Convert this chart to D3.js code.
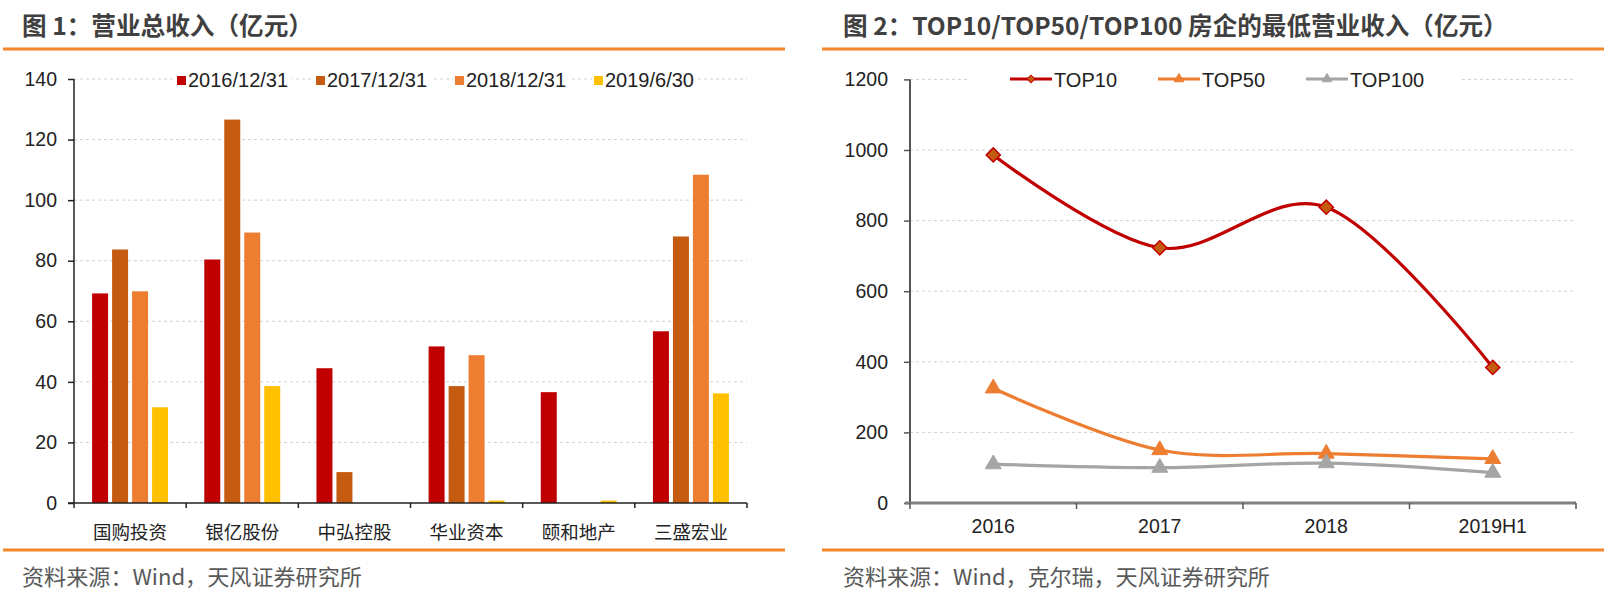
<!DOCTYPE html>
<html><head><meta charset="utf-8">
<script src="https://cdn.jsdelivr.net/npm/d3@7"></script>
<style>body{margin:0;background:#fff;} svg{display:block;}</style>
</head><body><svg id="c" width="1615" height="591"></svg>
<script>
// ---------- data ----------
const companies = ["国购投资","银亿股份","中弘控股","华业资本","颐和地产","三盛宏业"];
const barSeries = ["2016/12/31","2017/12/31","2018/12/31","2019/6/30"];
const rev2016 = [69.2, 80.4, 44.5, 51.7, 36.6, 56.7];
const rev2017 = [83.7, 126.6, 10.2, 38.6, 0, 88.0];
const rev2018 = [69.9, 89.3, 0, 48.8, 0, 108.4];
const rev2019H1 = [31.6, 38.6, 0, 0.8, 0.8, 36.2];
const barTicks = [0, 20, 40, 60, 80, 100, 120, 140];

const years = ["2016","2017","2018","2019H1"];
const lineSeries = ["TOP10","TOP50","TOP100"];
const top10 = [986, 723, 838, 384];
const top50 = [325, 150, 140, 125];
const top100 = [110, 100, 113, 86];
const lineTicks = [0, 200, 400, 600, 800, 1000, 1200];

const title1 = "图 1：营业总收入（亿元）";
const title2 = "图 2：TOP10/TOP50/TOP100 房企的最低营业收入（亿元）";
const source1 = "资料来源：Wind，天风证券研究所";
const source2 = "资料来源：Wind，克尔瑞，天风证券研究所";

// ---------- styles ----------
const barColors = ["#C00000", "#C55A11", "#ED7D31", "#FFC000"];
const lineColors = ["#C00000", "#ED7D31", "#A5A5A5"];
const ORANGE = "#F4862B";
const CJK = "'Noto Sans CJK SC', 'Noto Sans', sans-serif";
const LAT = "'Liberation Sans', Arial, sans-serif";

const svg = d3.select("#c");

function fit(t, w) {
  const fs = parseFloat(t.attr("font-size"));
  const len = t.node().getComputedTextLength();
  t.attr("font-size", (fs * w / len).toFixed(2));
}

// ---------- headers / footers ----------
function frame(x0, x1, textX, title, titleW, src, srcW) {
  const t = svg.append("text").attr("x", textX).attr("y", 24)
    .attr("dominant-baseline", "central")
    .attr("font-family", CJK).attr("font-weight", "bold")
    .attr("font-size", 23).attr("fill", "#404040").text(title);
  fit(t, titleW);
  svg.append("line").attr("x1", x0).attr("x2", x1).attr("y1", 49).attr("y2", 49)
    .attr("stroke", ORANGE).attr("stroke-width", 3);
  svg.append("line").attr("x1", x0).attr("x2", x1).attr("y1", 550).attr("y2", 550)
    .attr("stroke", ORANGE).attr("stroke-width", 3);
  const s = svg.append("text").attr("x", textX).attr("y", 575)
    .attr("dominant-baseline", "central")
    .attr("font-family", CJK).attr("font-size", 20).attr("fill", "#595959").text(src);
  fit(s, srcW);
}
frame(3, 785, 22, title1, 291, source1, 340);
frame(822, 1604, 843, title2, 665, source2, 427);

// ---------- chart 1: bars ----------
{
  const L = 74, R = 747, T = 79, B = 503;
  const y = d3.scaleLinear().domain([0, 140]).range([B, T]);
  const x0 = d3.scaleBand().domain(companies).range([L, R]).paddingInner(0.323).paddingOuter(0.1615);
  const x1 = d3.scaleBand().domain(barSeries).range([0, x0.bandwidth()]).paddingInner(0.2);
  const vals = [rev2016, rev2017, rev2018, rev2019H1];

  const g = svg.append("g");
  g.selectAll(".grid").data(barTicks.filter(d => d > 0)).join("line")
    .attr("x1", L).attr("x2", R).attr("y1", d => y(d)).attr("y2", d => y(d))
    .attr("stroke", "#D0D0D0").attr("stroke-width", 1).attr("stroke-dasharray", "3,3");

  barSeries.forEach((s, si) => {
    g.selectAll(".b" + si).data(companies).join("rect")
      .attr("x", c => x0(c) + x1(s))
      .attr("width", x1.bandwidth())
      .attr("y", (c, i) => y(vals[si][i]))
      .attr("height", (c, i) => B - y(vals[si][i]))
      .attr("fill", barColors[si]);
  });

  const ya = d3.axisLeft(y).tickValues(barTicks).tickFormat(d3.format("d")).tickSize(6).tickPadding(11);
  const yg = g.append("g").attr("transform", `translate(${L},0)`).call(ya);
  yg.select(".domain").attr("stroke", "#222").attr("stroke-width", 1.5).attr("d", `M0,${T}V${B}`);
  yg.selectAll(".tick line").attr("stroke", "#222").attr("stroke-width", 1.5);
  yg.selectAll(".tick text").attr("font-family", LAT).attr("font-size", 19.5).attr("fill", "#222");

  const xg = g.append("g");
  xg.append("line").attr("x1", L - 6).attr("x2", R).attr("y1", B).attr("y2", B)
    .attr("stroke", "#222").attr("stroke-width", 1.5);
  const bounds = companies.map(c => x0(c) - (x0.step() - x0.bandwidth()) / 2);
  bounds.push(R);
  xg.selectAll(".xt").data(bounds).join("line")
    .attr("x1", d => d).attr("x2", d => d).attr("y1", B).attr("y2", B + 5)
    .attr("stroke", "#222").attr("stroke-width", 1.5);
  xg.selectAll(".xl").data(companies).join("text")
    .attr("x", c => x0(c) + x0.bandwidth() / 2).attr("y", 531)
    .attr("dominant-baseline", "central").attr("text-anchor", "middle")
    .attr("font-family", CJK).attr("font-size", 18.5).attr("fill", "#222").text(c => c);

  const lg = g.append("g");
  barSeries.forEach((s, i) => {
    const lx = 177 + i * 139;
    const it = lg.append("g");
    const tx = it.append("text").attr("x", lx + 11).attr("y", 80)
      .attr("dominant-baseline", "central")
      .attr("font-family", LAT).attr("font-size", 20).attr("fill", "#222").text(s);
    const w = tx.node().getComputedTextLength();
    it.insert("rect", "text").attr("x", lx - 2).attr("y", 70).attr("width", w + 17).attr("height", 20).attr("fill", "#fff");
    it.append("rect").attr("x", lx).attr("y", 76).attr("width", 9).attr("height", 9).attr("fill", barColors[i]);
  });
}

// ---------- chart 2: lines ----------
{
  const L = 910, R = 1576, T = 79.4, B = 503;
  const y = d3.scaleLinear().domain([0, 1200]).range([B, T]);
  const x = d3.scaleBand().domain(years).range([L, R]);
  const cx = d => x(d) + x.bandwidth() / 2;
  const vals = [top10, top50, top100];

  const g = svg.append("g");
  g.selectAll(".grid").data(lineTicks.filter(d => d > 0)).join("line")
    .attr("x1", L).attr("x2", 1573).attr("y1", d => y(d)).attr("y2", d => y(d))
    .attr("stroke", "#D0D0D0").attr("stroke-width", 1).attr("stroke-dasharray", "3,3");

  const ya = d3.axisLeft(y).tickValues(lineTicks).tickFormat(d3.format("d")).tickSize(6).tickPadding(16);
  const yg = g.append("g").attr("transform", `translate(${L},0)`).call(ya);
  yg.select(".domain").attr("stroke", "#555").attr("stroke-width", 2).attr("d", `M0,${T}V${B}`);
  yg.selectAll(".tick line").attr("stroke", "#555").attr("stroke-width", 1.5);
  yg.selectAll(".tick text").attr("font-family", LAT).attr("font-size", 19.5).attr("fill", "#222");

  const xg = g.append("g");
  xg.append("line").attr("x1", L - 5).attr("x2", R).attr("y1", B).attr("y2", B)
    .attr("stroke", "#808080").attr("stroke-width", 3);
  const bounds = years.map(d => x(d)); bounds.push(R);
  xg.selectAll(".xt").data(bounds).join("line")
    .attr("x1", d => d).attr("x2", d => d).attr("y1", B).attr("y2", B + 6)
    .attr("stroke", "#555").attr("stroke-width", 1.5);
  xg.selectAll(".xl").data(years).join("text")
    .attr("x", d => cx(d)).attr("y", 526)
    .attr("dominant-baseline", "central").attr("text-anchor", "middle")
    .attr("font-family", LAT).attr("font-size", 19.5).attr("fill", "#222").text(d => d);

  const line = d3.line().x((v, i) => cx(years[i])).y(v => y(v)).curve(d3.curveCardinal.tension(0));
  const diamond = d3.symbol().type(d3.symbolSquare).size(100)();
  const tri = d3.symbol().type(d3.symbolTriangle).size(110)();
  const smallDiamond = d3.symbol().type(d3.symbolSquare).size(30)();
  const smallTri = d3.symbol().type(d3.symbolTriangle).size(40)();

  vals.forEach((arr, si) => {
    g.append("path").attr("d", line(arr)).attr("fill", "none")
      .attr("stroke", lineColors[si]).attr("stroke-width", 3.2);
  });
  vals.forEach((arr, si) => {
    g.selectAll(".m" + si).data(arr).join("path")
      .attr("transform", (v, i) => `translate(${cx(years[i])},${y(v)})` + (si === 0 ? " rotate(45)" : ""))
      .attr("d", si === 0 ? diamond : tri)
      .attr("fill", si === 0 ? "#C55A11" : lineColors[si])
      .attr("stroke", si === 0 ? "#C00000" : lineColors[si])
      .attr("stroke-width", si === 0 ? 1.5 : 1);
  });

  const lg = g.append("g");
  lg.append("rect").attr("x", 970).attr("y", 68).attr("width", 490).attr("height", 22).attr("fill", "#fff");
  lineSeries.forEach((s, i) => {
    const lx = 1010 + i * 148;
    lg.append("line").attr("x1", lx).attr("x2", lx + 42).attr("y1", 79).attr("y2", 79)
      .attr("stroke", lineColors[i]).attr("stroke-width", 3.2);
    lg.append("path").attr("transform", `translate(${lx + 21},79)` + (i === 0 ? " rotate(45)" : ""))
      .attr("d", i === 0 ? smallDiamond : smallTri)
      .attr("fill", i === 0 ? "#C55A11" : lineColors[i])
      .attr("stroke", lineColors[i]).attr("stroke-width", 1);
    lg.append("text").attr("x", lx + 44).attr("y", 80)
      .attr("dominant-baseline", "central")
      .attr("font-family", LAT).attr("font-size", 20).attr("fill", "#222").text(s);
  });
}
</script></body></html>
